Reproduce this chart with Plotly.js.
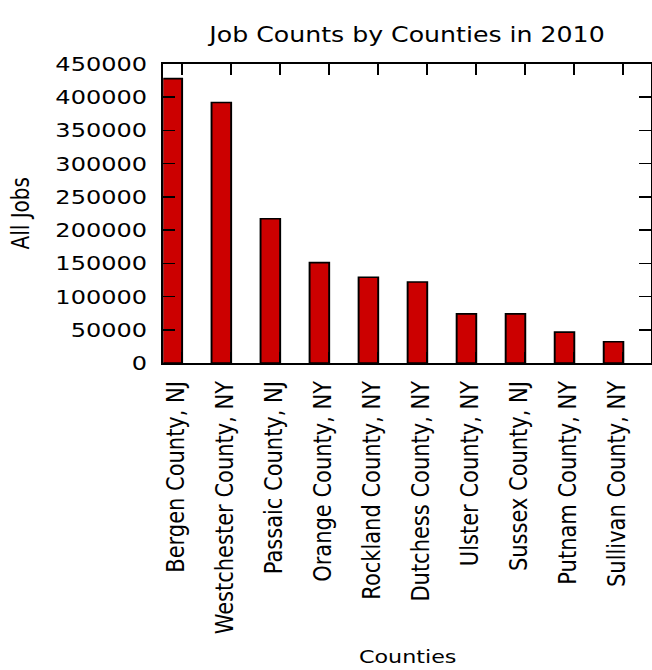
<!DOCTYPE html>
<html>
<head>
<meta charset="utf-8">
<script src="https://cdn.plot.ly/plotly-3.0.1.min.js"></script>
<style>
  html, body { margin: 0; padding: 0; background: #fff; overflow: hidden; width: 652px; height: 670px; }
  #chart { width: 543px; height: 670px; transform: scaleX(1.2007); transform-origin: 0 0; }
</style>
</head>
<body>
<div id="chart"></div>
<script>
const counties = [
  "Bergen County, NJ", "Westchester County, NY", "Passaic County, NJ",
  "Orange County, NY", "Rockland County, NY", "Dutchess County, NY",
  "Ulster County, NY", "Sussex County, NJ", "Putnam County, NY",
  "Sullivan County, NY"
];
const allJobs = [428000, 392000, 217000, 151000, 129000, 122000, 74000, 74000, 46500, 32000];
const yTicks = [0, 50000, 100000, 150000, 200000, 250000, 300000, 350000, 400000, 450000];
const chartTitle = "Job Counts by Counties in 2010";
const xTitle = "Counties";
const yTitle = "All Jobs";

const positions = counties.map((c, i) => i);
const tickPos = counties.map((c, i) => i + 0.19);

const font = "DejaVu Sans, Bitstream Vera Sans, sans-serif";

const trace = {
  type: "bar",
  x: positions,
  y: allJobs,
  width: 0.4,
  marker: { color: "#cc0000", line: { color: "#000000", width: 1.6 } },
  hoverinfo: "skip"
};

const layout = {
  width: 543,
  height: 670,
  margin: { l: 136, r: 1, t: 64, b: 307 },
  paper_bgcolor: "#ffffff",
  plot_bgcolor: "#ffffff",
  showlegend: false,
  bargap: 0,
  title: {
    text: chartTitle,
    font: { family: font, size: 21, color: "#000" },
    x: 0.5, xref: "paper", xanchor: "center",
    y: 1 - 35 / 670, yref: "container", yanchor: "middle"
  },
  xaxis: {
    range: [-0.184, 9.76],
    tickmode: "array",
    tickvals: tickPos,
    ticktext: counties,
    tickangle: -90,
    ticks: "inside",
    ticklen: 11,
    tickwidth: 1.5,
    tickcolor: "#000",
    ticklabelshift: -5,
    ticklabelstandoff: 8,
    showline: true,
    linecolor: "#000",
    linewidth: 1.6,
    mirror: "allticks",
    showgrid: false,
    zeroline: false,
    fixedrange: true,
    tickfont: { family: font, size: 21, color: "#000" }
  },
  yaxis: {
    range: [0, 450000],
    tickmode: "array",
    tickvals: yTicks,
    ticktext: yTicks.map(v => String(v)),
    ticks: "inside",
    ticklen: 10,
    tickwidth: 1.5,
    tickcolor: "#000",
    ticklabelstandoff: 8,
    showline: true,
    linecolor: "#000",
    linewidth: 1.6,
    mirror: "allticks",
    showgrid: false,
    zeroline: false,
    fixedrange: true,
    tickfont: { family: font, size: 20, color: "#000" }
  },
  annotations: [
    {
      text: xTitle, xref: "paper", yref: "paper", x: 0.5, y: 0,
      xanchor: "center", yanchor: "middle", yshift: -293, showarrow: false,
      font: { family: font, size: 18.5, color: "#000" }
    },
    {
      text: yTitle, xref: "paper", yref: "paper", x: 0, y: 0.5,
      xanchor: "center", yanchor: "middle", xshift: -119, textangle: -90, showarrow: false,
      font: { family: font, size: 20, color: "#000" }
    }
  ]
};

Plotly.newPlot("chart", [trace], layout, { staticPlot: true, displayModeBar: false });
</script>
</body>
</html>
